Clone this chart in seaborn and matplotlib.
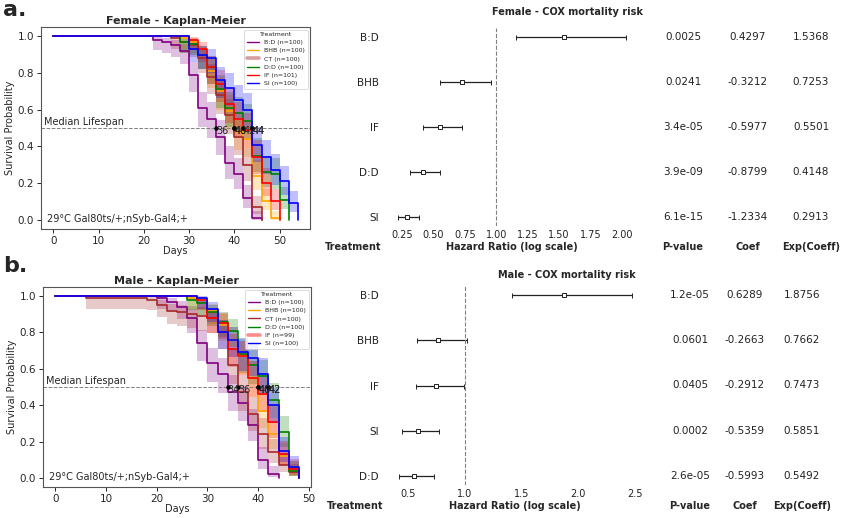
import numpy as np
import pandas as pd
import matplotlib
matplotlib.use("Agg")
import matplotlib.pyplot as plt
import matplotlib.transforms as mtransforms
from matplotlib.lines import Line2D
import seaborn as sns

# ------------------------------------------------------------------ data
TREATMENTS = ["B:D", "BHB", "CT", "D:D", "IF", "SI"]
COLORS = ["purple", "orange", "brown", "green", "red", "blue"]

F_N = [100, 100, 100, 100, 101, 100]
M_N = [100, 100, 100, 100, 99, 100]

# Kaplan-Meier survival estimates, female
F_DAYS = [0, 22, 24, 26, 28, 30, 32, 34, 36, 38, 40, 42, 44, 46, 48, 50, 52, 54]
F_BD = [1, .98, .97, .95, .92, .79, .61, .55, .45, .31, .25, .12, .01, 0]
F_BHB = [1, 1, 1, 1, .99, .97, .90, .81, .70, .59, .48, .44, .24, .10, .01, 0]
F_CT = [1, 1, 1, .99, .97, .95, .88, .78, .68, .57, .45, .30, .07, 0]
F_DD = [1, 1, 1, 1, .97, .96, .90, .83, .71, .61, .58, .54, .35, .26, .25, .11, 0]
F_IF = [1, 1, 1, 1, 1, .98, .93, .83, .74, .63, .55, .49, .34, .20, .10, 0]
F_SI = [1, 1, 1, 1, 1, .93, .90, .88, .76, .72, .65, .60, .41, .34, .27, .21, .09, 0]

# male
M_DAYS = [0, 6, 18, 20, 22, 24, 26, 28, 30, 32, 34, 36, 38, 40, 42, 44, 46, 48]
M_BD = [1, 1, 1, .99, .97, .94, .88, .74, .63, .57, .47, .41, .29, .10, .02, 0]
M_BHB = [1, 1, 1, 1, 1, 1, .99, .98, .92, .84, .76, .67, .55, .37, .24, .12, .04, 0]
M_CT = [1, .99, .98, .95, .92, .91, .90, .89, .88, .80, .62, .47, .35, .24, .14, .07, .03, 0]
M_DD = [1, 1, 1, 1, 1, 1, .98, .96, .91, .86, .81, .68, .62, .56, .43, .25, .04, 0]
M_IF = [1, 1, 1, 1, 1, 1, 1, .98, .88, .85, .71, .67, .55, .46, .31, .13, .05, 0]
M_SI = [1, 1, 1, 1, 1, 1, 1, .99, .93, .80, .76, .69, .66, .57, .40, .15, .06, 0]

# Cox model results
F_ORDER = ["B:D", "BHB", "IF", "D:D", "SI"]
F_HR = [1.5368, 0.7253, 0.5501, 0.4148, 0.2913]
F_LO = [1.16, 0.548, 0.416, 0.313, 0.220]
F_HI = [2.03, 0.960, 0.728, 0.549, 0.386]
F_P = ["0.0025", "0.0241", "3.4e-05", "3.9e-09", "6.1e-15"]
F_COEF = [0.4297, -0.3212, -0.5977, -0.8799, -1.2334]

M_ORDER = ["B:D", "BHB", "IF", "SI", "D:D"]
M_HR = [1.8756, 0.7662, 0.7473, 0.5851, 0.5492]
M_LO = [1.42, 0.577, 0.565, 0.442, 0.415]
M_HI = [2.48, 1.017, 0.989, 0.774, 0.727]
M_P = ["1.2e-05", "0.0601", "0.0405", "0.0002", "2.6e-05"]
M_COEF = [0.6289, -0.2663, -0.2912, -0.5359, -0.5993]

GENOTYPE = "29\u00b0C Gal80ts/+;nSyb-Gal4;+"

# ------------------------------------------------------------------ style
sns.set_style("ticks")
plt.rcParams["font.family"] = ["DejaVu Sans"]

W, H = 867, 518
fig = plt.figure(figsize=(W / 100, H / 100), dpi=100)


def rect(l, t, r, b):
    return [l / W, 1 - b / H, (r - l) / W, (b - t) / H]


def greenwood_ci(surv, n):
    s = np.asarray(surv, float)
    var = 0.0
    lo = np.ones_like(s)
    hi = np.ones_like(s)
    for i in range(1, len(s)):
        at_risk = n * s[i - 1]
        d = n * (s[i - 1] - s[i])
        if s[i] > 0:
            if d > 0 and at_risk - d > 0:
                var += d / (at_risk * (at_risk - d))
            if s[i] < 1:
                ll = np.log(-np.log(s[i]))
                se = np.sqrt(var) / abs(np.log(s[i]))
                lo[i] = np.exp(-np.exp(ll + 1.96 * se))
                hi[i] = np.exp(-np.exp(ll - 1.96 * se))
        else:
            lo[i], hi[i] = lo[i - 1], hi[i - 1]
    return lo, hi


def km_panel(ax, days, curves, ns, title, thick_label):
    rows = []
    for name, surv in zip(TREATMENTS, curves):
        for d, s in zip(days, surv):
            rows.append((name, d, s))
    df = pd.DataFrame(rows, columns=["Treatment", "Days", "Survival"])
    pal = dict(zip(TREATMENTS, COLORS))
    for name, surv, n in zip(TREATMENTS, curves, ns):
        lo, hi = greenwood_ci(surv, n)
        ax.fill_between(days[:len(surv)], lo, hi, step="post",
                        color=pal[name], alpha=0.25, lw=0)
    sns.lineplot(data=df, x="Days", y="Survival", hue="Treatment",
                 palette=pal, drawstyle="steps-post", estimator=None,
                 sort=False, lw=1.2, legend=False, ax=ax)
    ax.axhline(0.5, color="gray", ls="--", lw=0.7)
    blend = mtransforms.blended_transform_factory(ax.transAxes, ax.transData)
    ax.text(0.01, 0.505, "Median Lifespan", transform=blend, fontsize=7,
            va="bottom", ha="left")
    for name, surv in zip(TREATMENTS, curves):
        med = next(d for d, s in zip(days, surv) if s <= 0.5)
        ax.plot(med, 0.5, "o", color="black", ms=2.2)
        ax.text(med, 0.483, str(med), fontsize=7, va="center", ha="left")
    ax.text(0.022, 0.05, GENOTYPE, transform=ax.transAxes, fontsize=7,
            va="center", ha="left")
    handles = []
    labels = []
    for name, n, c in zip(TREATMENTS, ns, COLORS):
        if name == thick_label:
            handles.append(Line2D([], [], color=c, lw=2.6, alpha=0.45))
        else:
            handles.append(Line2D([], [], color=c, lw=1.0))
        labels.append(f"{name} (n={n})")
    leg = ax.legend(handles, labels, title="Treatment", loc="upper right",
                    fontsize=4.5, title_fontsize=4.5, frameon=True,
                    borderaxespad=0.4, labelspacing=0.45)
    leg.get_frame().set_linewidth(0.6)
    ax.set_title(title, fontsize=8, fontweight="bold", pad=2)
    ax.set_xlabel("Days", fontsize=7, labelpad=0)
    ax.set_ylabel("Survival Probability", fontsize=7, labelpad=2)
    ax.tick_params(labelsize=7.5, length=3, width=0.7, pad=2)
    for sp in ax.spines.values():
        sp.set_visible(True)
        sp.set_color("#555555")
        sp.set_linewidth(0.8)


def forest_panel(ax, names, hr, lo, hi, pvals, coefs, title, title_y,
                 header_y, col_x, treat_x, hr_x):
    ypos = np.arange(len(names))[::-1]
    df = pd.DataFrame({"Treatment": names, "HR": hr, "lo": lo, "hi": hi,
                       "y": ypos})
    ax.errorbar(df["HR"], df["y"],
                xerr=[df["HR"] - df["lo"], df["hi"] - df["HR"]],
                fmt="none", ecolor="#222222", elinewidth=0.9, capsize=1.8,
                capthick=0.7)
    sns.scatterplot(data=df, x="HR", y="y", marker="s", s=12, color="white",
                    edgecolor="#222222", linewidth=0.7, ax=ax, zorder=3)
    ax.axvline(1.0, color="gray", ls="--", lw=0.8)
    ax.set_yticks(ypos)
    ax.set_yticklabels(names)
    ax.set_xlabel("")
    ax.set_ylabel("")
    ax.tick_params(axis="y", length=0, pad=5.8, labelsize=7.5,
                   labelcolor="#222222")
    ax.tick_params(axis="x", length=0, pad=3, labelsize=7,
                   labelcolor="#222222")
    for sp in ax.spines.values():
        sp.set_visible(False)
    trans = mtransforms.blended_transform_factory(fig.transFigure, ax.transData)
    exps = [f"{h:.4f}" for h in hr]
    cfs = [f"{c:.4f}" for c in coefs]
    for y, p, c, e in zip(ypos, pvals, cfs, exps):
        for x, t in zip(col_x, (p, c, e)):
            ax.text(x / W, y, t, transform=trans, ha="center", va="center",
                    fontsize=7.5, color="#222222")
    fig.text(567 / W, 1 - title_y / H, title, ha="center", va="center",
             fontsize=7, fontweight="bold")
    hy = 1 - header_y / H
    fig.text(treat_x / W, hy, "Treatment", ha="center", va="center",
             fontsize=7, fontweight="bold")
    fig.text(hr_x / W, hy, "Hazard Ratio (log scale)", ha="center",
             va="center", fontsize=7, fontweight="bold")
    for x, t in zip(col_x, ("P-value", "Coef", "Exp(Coeff)")):
        fig.text(x / W, hy, t, ha="center", va="center", fontsize=7,
                 fontweight="bold")


# ------------------------------------------------------------------ panels
ax1 = fig.add_axes(rect(41, 27, 310, 229))
km_panel(ax1, F_DAYS, [F_BD, F_BHB, F_CT, F_DD, F_IF, F_SI], F_N,
         "Female - Kaplan-Meier", "CT")

ax2 = fig.add_axes(rect(43, 287, 311, 487))
km_panel(ax2, M_DAYS, [M_BD, M_BHB, M_CT, M_DD, M_IF, M_SI], M_N,
         "Male - Kaplan-Meier", "IF")

ax3 = fig.add_axes(rect(387, 28, 637, 226))
forest_panel(ax3, F_ORDER, F_HR, F_LO, F_HI, F_P, F_COEF,
             "Female - COX mortality risk", 12, 247, (683, 748, 811), 353, 512)

ax4 = fig.add_axes(rect(387, 286, 644, 485))
forest_panel(ax4, M_ORDER, M_HR, M_LO, M_HI, M_P, M_COEF,
             "Male - COX mortality risk", 275, 506, (690, 745, 802), 355, 515)

fig.text(3 / W, 1 - 0 / H, "a.", fontsize=16, fontweight="bold", va="top")
fig.text(3 / W, 1 - 256 / H, "b.", fontsize=16, fontweight="bold", va="top")

fig.savefig("out.png", dpi=100)
